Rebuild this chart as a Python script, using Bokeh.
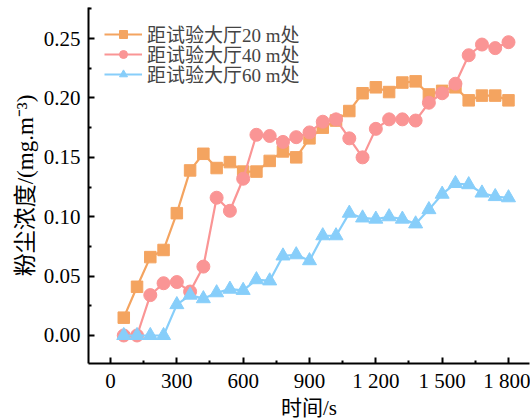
from bokeh.plotting import figure
from bokeh.models import FixedTicker, Range1d, Legend, LegendItem
from bokeh.embed import file_html
from bokeh.resources import INLINE

times = [60, 120, 180, 240, 300, 360, 420, 480, 540, 600, 660, 720, 780, 840, 900,
         960, 1020, 1080, 1140, 1200, 1260, 1320, 1380, 1440, 1500, 1560, 1620, 1680, 1740, 1800]
dist20 = [0.015, 0.041, 0.066, 0.072, 0.103, 0.139, 0.153, 0.141, 0.146, 0.138,
          0.138, 0.147, 0.155, 0.150, 0.166, 0.175, 0.181, 0.189, 0.204, 0.209,
          0.205, 0.213, 0.214, 0.203, 0.206, 0.209, 0.198, 0.202, 0.202, 0.198]
dist40 = [0.0, 0.0, 0.034, 0.044, 0.045, 0.037, 0.058, 0.116, 0.105, 0.132,
          0.169, 0.168, 0.163, 0.167, 0.171, 0.180, 0.182, 0.166, 0.150, 0.174,
          0.182, 0.182, 0.181, 0.196, 0.204, 0.212, 0.236, 0.245, 0.242, 0.247]
dist60 = [0.0, 0.0, 0.0, 0.0, 0.026, 0.034, 0.031, 0.036, 0.039, 0.038,
          0.047, 0.046, 0.067, 0.068, 0.063, 0.084, 0.084, 0.103, 0.099, 0.098,
          0.100, 0.098, 0.094, 0.106, 0.119, 0.128, 0.127, 0.120, 0.117, 0.116]
labels = ["距试验大厅20 m处", "距试验大厅40 m处", "距试验大厅60 m处"]
x_ticks = [0, 300, 600, 900, 1200, 1500, 1800]
x_tick_labels = ["0", "300", "600", "900", "1 200", "1 500", "1 800"]
y_ticks = [0.0, 0.05, 0.10, 0.15, 0.20, 0.25]
y_tick_labels = ["0.00", "0.05", "0.10", "0.15", "0.20", "0.25"]

FONT = "'Liberation Serif', 'Noto Sans CJK SC', serif"

p = figure(frame_width=441, frame_height=356, output_backend="svg", toolbar_location=None,
           x_range=Range1d(-99.5, 1895), y_range=Range1d(-0.0236, 0.2762),
           min_border_left=88, min_border_right=1, min_border_top=7, min_border_bottom=50)
p.outline_line_color = None
p.xgrid.visible = False
p.ygrid.visible = False
p.background_fill_color = "white"

colors = ["#F4A460", "#FA9595", "#87CEFA"]
markers = ["square", "circle", "triangle"]
sizes = [11.5, 13, 14]
series = [dist20, dist40, dist60]
renderers = []
for ys, c, m, s in zip(series, colors, markers, sizes):
    r1 = p.line(times, ys, line_color=c, line_width=2.2)
    r2 = p.scatter(times, ys, marker=m, size=s, fill_color=c, line_color=c)
    renderers.append([r1, r2])

for ax in (p.xaxis[0], p.yaxis[0]):
    ax.axis_line_width = 2
    ax.axis_line_color = "black"
    ax.major_tick_in = 6
    ax.major_tick_out = 0
    ax.minor_tick_in = 3
    ax.minor_tick_out = 0
    ax.major_tick_line_width = 2
    ax.minor_tick_line_width = 2
    ax.major_label_text_font = FONT
    ax.major_label_text_font_size = "21px"
    ax.major_label_text_color = "black"
    ax.axis_label_text_font = FONT
    ax.axis_label_text_font_size = "21px"
    ax.axis_label_text_font_style = "normal"
    ax.axis_label_text_color = "black"

xt = FixedTicker(ticks=x_ticks, minor_ticks=[-150 + 300 * i for i in range(8)])
p.xaxis.ticker = xt
p.xaxis.major_label_overrides = {t: l for t, l in zip(x_ticks, x_tick_labels)}
p.xaxis.axis_label = "时间/s"
p.xaxis.major_label_standoff = 5
p.xaxis.axis_label_standoff = 0

yt = FixedTicker(ticks=y_ticks, minor_ticks=[-0.025 + 0.05 * i for i in range(7)])
p.yaxis.ticker = yt
p.yaxis.major_label_overrides = {t: l for t, l in zip(y_ticks, y_tick_labels)}
p.yaxis.axis_label = "粉尘浓度/(mg.m⁻³)"
p.yaxis.axis_label_text_font_size = "23px"
p.yaxis.major_label_standoff = 8
p.yaxis.axis_label_standoff = 3

leg_y = [316, 296, 276]
for lab, rs, ly in zip(labels, renderers, leg_y):
    leg = Legend(items=[LegendItem(label=lab, renderers=rs)], location=(16, ly))
    leg.margin = 0
    leg.padding = 0
    leg.spacing = 0
    leg.border_line_color = None
    leg.background_fill_alpha = 0
    leg.label_text_font = FONT
    leg.label_text_font_size = "19px"
    leg.label_standoff = 5
    leg.glyph_width = 38
    leg.glyph_height = 20
    leg.label_height = 20
    p.add_layout(leg)

open("out.html", "w").write(file_html(p, INLINE))
